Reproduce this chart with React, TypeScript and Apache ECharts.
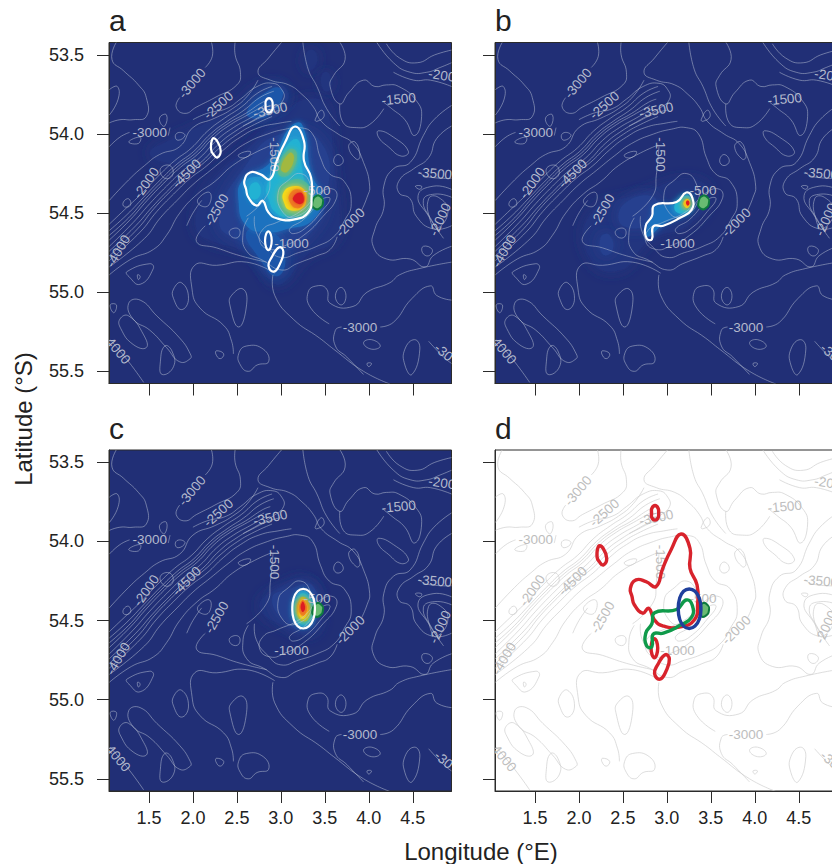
import React, { useEffect, useRef } from "react";
import * as echarts from "echarts";

const FONT = '"Liberation Sans", Arial, sans-serif';
const lonTicks = [1.5, 2.0, 2.5, 3.0, 3.5, 4.0, 4.5];
const latTicks = [53.5, 54.0, 54.5, 55.0, 55.5];
const panelLetters = ["a", "b", "c", "d"];
type P = number[];

const ridgeContours: P[][] = [
  [[1.05,54.42],[1.27,54.29],[1.45,54.20],[1.62,54.13],[1.85,54.08],[2.00,53.96],[2.25,53.90],[2.45,53.84],[2.62,53.76],[2.74,53.66]],
  [[1.05,54.57],[1.22,54.48],[1.41,54.38],[1.60,54.27],[1.79,54.17],[1.98,54.09],[2.17,53.98],[2.36,53.90],[2.55,53.83],[2.74,53.74],[2.90,53.70]],
  [[1.05,54.61],[1.25,54.51],[1.44,54.40],[1.63,54.29],[1.82,54.19],[2.01,54.11],[2.20,54.00],[2.39,53.92],[2.58,53.85],[2.76,53.77],[2.92,53.73]],
  [[1.05,54.64],[1.27,54.53],[1.46,54.41],[1.65,54.30],[1.84,54.20],[2.03,54.12],[2.22,54.01],[2.41,53.93],[2.60,53.87],[2.79,53.80],[2.88,53.78]],
  [[1.05,54.67],[1.29,54.54],[1.48,54.42],[1.67,54.31],[1.86,54.21],[2.05,54.13],[2.24,54.02],[2.43,53.94],[2.62,53.88],[2.81,53.82]],
  [[1.05,54.71],[1.32,54.56],[1.51,54.44],[1.70,54.33],[1.89,54.23],[2.08,54.15],[2.27,54.04],[2.46,53.96],[2.65,53.90],[2.84,53.84]],
  [[1.05,54.74],[1.35,54.58],[1.54,54.46],[1.73,54.35],[1.92,54.25],[2.11,54.17],[2.30,54.06],[2.49,53.98],[2.68,53.92],[2.87,53.87],[3.00,53.85]],
  [[1.05,54.77],[1.37,54.60],[1.56,54.47],[1.75,54.36],[1.94,54.26],[2.13,54.18],[2.32,54.08],[2.51,54.00],[2.70,53.94],[2.90,53.89]],
  [[1.05,54.80],[1.40,54.62],[1.59,54.49],[1.78,54.38],[1.97,54.28],[2.16,54.20],[2.35,54.10],[2.54,54.02],[2.75,53.96],[3.00,53.93],[3.12,53.92]],
  [[1.05,54.84],[1.45,54.66],[1.63,54.53],[1.82,54.42],[2.00,54.32],[2.20,54.23],[2.40,54.14],[2.60,54.06],[2.85,54.00],[3.05,53.97],[3.22,53.96],[3.36,54.00],[3.45,54.15],[3.55,54.25],[3.72,54.30],[3.80,54.44],[3.72,54.55],[3.60,54.65],[3.41,54.71],[3.20,54.75],[3.00,54.78],[2.85,54.72],[2.72,54.62],[2.70,54.52]],
  [[1.05,54.89],[1.30,54.79],[1.55,54.73],[1.70,54.64],[1.85,54.50],[2.05,54.38],[2.25,54.30],[2.45,54.20],[2.70,54.12],[2.90,54.07]],
];

const openContours: P[][] = [
  [[1.13,53.42],[1.08,53.53],[1.21,53.60],[1.38,53.69],[1.47,53.77],[1.47,53.89],[1.32,53.91],[1.17,53.91],[1.05,53.93]],
  [[1.05,53.72],[1.14,53.70],[1.15,53.78],[1.05,53.88]],
  [[2.21,53.42],[2.22,53.51],[2.14,53.58]],
  [[1.85,53.77],[1.81,53.83],[1.91,53.87],[2.04,53.83],[2.25,53.77],[2.50,53.69],[2.54,53.61],[2.48,53.50],[2.48,53.42]],
  [[2.00,53.91],[2.16,53.87],[2.38,53.84],[2.54,53.78],[2.73,53.70],[2.91,53.68],[3.01,53.72],[3.03,53.78],[2.91,53.84],[2.73,53.90],[2.57,53.95]],
  [[3.01,53.42],[2.86,53.52],[2.74,53.61],[2.88,53.66],[3.09,53.69],[3.24,53.75],[3.37,53.83],[3.46,53.92],[3.65,54.00],[3.82,54.06],[3.94,54.18],[4.01,54.33],[3.98,54.40],[3.92,54.48]],
  [[3.64,54.65],[3.56,54.73],[3.41,54.77],[3.18,54.82],[3.01,54.86],[2.80,54.80],[2.61,54.74],[2.57,54.62],[2.63,54.53]],
  [[3.67,53.42],[3.73,53.53],[3.60,53.63],[3.56,53.70],[3.67,53.81],[3.77,53.74],[3.94,53.66],[4.07,53.70],[4.20,53.69],[4.34,53.70],[4.54,53.79],[4.60,53.89],[4.52,54.01],[4.41,53.91],[4.26,53.84],[4.17,53.80]],
  [[3.67,53.81],[3.71,53.93],[3.86,53.96],[4.01,53.94],[4.17,53.84]],
  [[3.25,53.42],[3.31,53.59],[3.41,53.70],[3.52,53.84],[3.67,53.95]],
  [[4.09,53.42],[4.28,53.55],[4.47,53.61],[4.66,53.61],[4.81,53.58],[4.94,53.55]],
  [[4.20,53.43],[4.35,53.52],[4.55,53.55],[4.75,53.50],[4.94,53.47]],
  [[4.94,53.70],[4.70,53.66],[4.51,53.66],[4.28,53.61]],
  [[2.61,54.52],[2.84,54.39],[2.88,54.26],[2.91,54.08]],
  [[2.14,54.58],[2.04,54.68],[2.27,54.72],[2.54,54.77],[2.84,54.81]],
  [[1.93,54.58],[2.00,54.50],[2.10,54.42]],
  [[1.05,54.08],[1.17,54.02],[1.28,53.99]],
  [[1.72,54.01],[1.74,53.96]],
  [[2.91,54.89],[2.93,55.02],[3.14,55.17],[3.44,55.29],[3.60,55.36],[3.94,55.50],[4.24,55.58]],
  [[3.55,55.20],[3.34,55.10],[3.31,55.00],[3.41,54.96],[3.52,54.98],[3.56,55.07],[3.82,55.09],[3.98,55.00],[4.24,54.94],[4.35,54.89],[4.58,54.85],[4.94,54.81]],
  [[4.94,55.05],[4.77,55.02],[4.70,54.96],[4.49,55.04],[4.28,55.19],[4.13,55.22]],
  [[3.69,55.22],[3.62,55.24],[3.62,55.34],[3.75,55.41],[3.94,55.52]],
  [[4.68,55.31],[4.85,55.41],[4.94,55.45]],
  [[2.93,54.88],[2.61,54.81],[2.27,54.83],[2.02,54.83],[1.99,54.98],[2.08,55.10],[2.35,55.21],[2.44,55.31],[2.46,55.39]],
  [[1.06,55.30],[1.27,55.44],[1.44,55.57]],
  [[4.94,53.95],[4.77,54.03],[4.68,54.15],[4.51,54.22],[4.35,54.29],[4.34,54.37],[4.47,54.41],[4.54,54.52],[4.73,54.60],[4.94,54.58]],
  [[4.94,53.82],[4.74,53.91],[4.62,54.01],[4.47,54.18],[4.28,54.22],[4.17,54.33],[4.17,54.47],[4.07,54.60],[4.05,54.71],[4.20,54.79],[4.47,54.79],[4.64,54.84],[4.73,54.77],[4.94,54.71]],
  [[4.94,54.35],[4.73,54.33],[4.56,54.39],[4.68,54.52],[4.80,54.62]],
  [[4.94,54.40],[4.75,54.38],[4.62,54.42],[4.72,54.55],[4.85,54.66]],
  [[4.57,54.24],[4.66,54.27],[4.94,54.28]],
];

const closedContours: P[][] = [
  [[2.80,54.60],[2.95,54.56],[3.22,54.49],[3.45,54.37],[3.60,54.35],[3.63,54.41],[3.48,54.52],[3.26,54.64],[3.03,54.71],[2.88,54.73],[2.76,54.68]],
  [[3.09,54.29],[3.22,54.25],[3.33,54.31],[3.35,54.43],[3.18,54.52],[3.03,54.50],[2.97,54.37]],
  [[3.10,54.60],[3.26,54.54],[3.48,54.41],[3.56,54.41],[3.46,54.49],[3.29,54.59],[3.14,54.63]],
  [[3.68,54.97],[3.74,55.02],[3.69,55.08],[3.62,55.03]],
  [[3.94,55.32],[4.03,55.30],[4.13,55.34],[4.03,55.36]],
  [[4.41,55.36],[4.52,55.30],[4.58,55.36],[4.49,55.52],[4.41,55.46]],
  [[3.98,55.45],[4.03,55.45],[4.00,55.47]],
  [[1.27,55.07],[1.40,55.05],[1.59,55.15],[1.85,55.29],[1.97,55.39],[1.97,55.42],[1.85,55.44],[1.70,55.35],[1.51,55.24],[1.32,55.17]],
  [[1.17,55.17],[1.27,55.15],[1.44,55.27],[1.47,55.35],[1.32,55.33],[1.18,55.23]],
  [[1.06,55.08],[1.13,55.08],[1.10,55.13]],
  [[2.44,55.02],[2.57,54.98],[2.61,55.08],[2.52,55.22],[2.42,55.08]],
  [[1.78,54.98],[1.87,54.94],[1.95,55.04],[1.87,55.11],[1.78,55.04]],
  [[1.25,54.87],[1.51,54.82],[1.55,54.85],[1.40,54.95],[1.27,54.90]],
  [[1.37,54.89],[1.40,54.90],[1.38,54.92]],
  [[2.52,55.39],[2.61,55.34],[2.80,55.36],[2.86,55.44],[2.73,55.46],[2.63,55.50],[2.54,55.46]],
  [[2.27,55.37],[2.35,55.39],[2.31,55.42],[2.26,55.39]],
  [[1.63,55.44],[1.68,55.34],[1.76,55.37],[1.78,55.47],[1.65,55.52]],
  [[4.68,54.41],[4.79,54.40],[4.90,54.49],[4.77,54.60],[4.70,54.55]],
  [[4.53,54.33],[4.60,54.33],[4.58,54.35]],
  [[4.62,54.71],[4.72,54.73],[4.68,54.77],[4.61,54.75]],
  [[4.11,53.98],[4.28,54.02],[4.45,54.11],[4.37,54.14],[4.22,54.08],[4.11,54.02]],
  [[3.60,54.17],[3.65,54.13],[3.71,54.17],[3.65,54.20]],
  [[3.77,54.08],[3.84,54.05],[3.90,54.14],[3.86,54.16]],
  [[3.39,53.91],[3.46,53.85],[3.49,53.89],[3.41,53.92]],
  [[2.06,54.41],[2.19,54.37],[2.18,54.45],[2.08,54.45]],
  [[2.42,54.61],[2.52,54.60],[2.52,54.65],[2.44,54.65]],
  [[2.52,54.13],[2.65,54.11],[2.63,54.14],[2.54,54.15]],
  [[1.27,54.05],[1.40,54.02],[1.38,54.06]],
  [[1.80,54.01],[1.85,53.99],[1.91,54.01],[1.83,54.04]],
  [[1.63,53.89],[1.70,53.88],[1.68,53.95],[1.63,53.93]],
  [[1.63,54.22],[1.74,54.20],[1.77,54.26],[1.68,54.28]],
  [[1.21,54.43],[1.27,54.41],[1.29,54.45],[1.22,54.46]],
];

const contourLabels: [string, number, number, number][] = [
  ["-3000", 1.99, 53.68, 50], ["-2500", 2.29, 53.82, 42], ["-3500", 2.88, 53.85, 12],
  ["-3000", 1.51, 53.99, 0], ["-1500", 4.34, 53.78, 5], ["-200", 4.83, 53.63, -8],
  ["-1500", 2.93, 54.13, -90], ["-2000", 1.47, 54.31, 55], ["-4500", 1.93, 54.25, 45],
  ["-2500", 2.27, 54.48, 60], ["-500", 3.41, 54.36, 0], ["-1000", 3.12, 54.69, 0],
  ["-2000", 3.79, 54.56, 45], ["-3500", 4.75, 54.25, -5], ["-2000", 4.81, 54.54, 65],
  ["-4000", 1.15, 54.74, 60], ["-3000", 3.90, 55.22, 0], ["4000", 1.15, 55.37, -50], ["-30", 4.85, 55.38, -40],
];

const contourA: P[][] = [
  [[2.585,54.296],[2.65,54.243],[2.763,54.254],[2.877,54.285],[2.953,54.17],[3.047,54.054],[3.161,53.953],[3.263,54.044],[3.263,54.17],[3.343,54.275],[3.35,54.39],[3.313,54.495],[3.142,54.541],[2.953,54.533],[2.858,54.495],[2.793,54.422],[2.725,54.453],[2.63,54.40],[2.604,54.348]],
  [[2.866,53.773],[2.90,53.79],[2.906,53.82],[2.90,53.85],[2.866,53.865],[2.83,53.85],[2.826,53.82],[2.83,53.79]],
  [[2.225,54.03],[2.27,54.04],[2.316,54.107],[2.278,54.149],[2.235,54.13],[2.206,54.096]],
  [[2.858,54.615],[2.896,54.674],[2.858,54.735],[2.82,54.674]],
  [[2.98,54.716],[3.028,54.743],[2.99,54.82],[2.92,54.87],[2.86,54.835],[2.895,54.78]],
];
const contourB: P[][] = [
  [[2.86,54.45],[3.11,54.43],[3.22,54.37],[3.29,54.405],[3.28,54.48],[3.15,54.53],[2.96,54.58],[2.845,54.585],[2.83,54.665],[2.77,54.66],[2.76,54.58],[2.83,54.52]],
];
const contourC: P[][] = [
  [[3.254,54.30],[3.32,54.315],[3.37,54.36],[3.387,54.425],[3.37,54.49],[3.32,54.535],[3.254,54.55],[3.19,54.535],[3.145,54.49],[3.13,54.425],[3.145,54.36],[3.19,54.315]],
];
const seamountPatch: P[] = [[3.41,54.39],[3.46,54.40],[3.48,54.43],[3.44,54.47],[3.38,54.47],[3.36,54.43]];

const heatColors = ["#22347f", "#25408f", "#1f56a9", "#1f72bf", "#2393cf", "#22b2d3", "#4fb79a", "#a2b83f", "#f3dc1f", "#f08a20", "#dd1f22"];

const heatA: [number, P[]][] = [
  [0, [[2.04,54.60],[2.12,54.39],[2.35,54.22],[2.61,54.10],[2.91,53.93],[3.14,53.82],[3.30,53.78],[3.48,53.80],[3.56,53.93],[3.60,54.18],[3.67,54.52],[3.60,54.68],[3.29,54.77],[3.03,54.94],[2.91,54.94],[2.76,54.81],[2.54,54.73],[2.23,54.68]]],
  [1, [[2.30,54.55],[2.60,54.20],[3.00,54.00],[3.45,54.05],[3.52,54.40],[3.30,54.65],[2.95,54.75],[2.55,54.68]]],
  [0, [[1.51,54.12],[1.70,54.05],[2.08,53.95],[2.46,53.84],[2.76,53.70],[3.03,53.70],[3.07,53.80],[2.73,53.89],[2.46,54.01],[2.08,54.18],[1.70,54.18]]],
  [2, [[2.61,53.87],[2.91,53.71],[3.03,53.74],[2.84,53.89]]],
  [0, [[3.28,53.50],[3.37,53.47],[3.41,53.55],[3.31,53.60]]],
  [0, [[3.47,53.62],[3.55,53.62],[3.56,53.72],[3.48,53.72]]],
  [2, [[2.61,54.62],[2.91,54.62],[3.05,54.79],[2.95,54.90],[2.76,54.79]]],
  [3, [[2.57,54.29],[2.88,54.18],[3.10,53.96],[3.24,53.94],[3.35,54.26],[3.46,54.39],[3.37,54.54],[3.07,54.60],[2.84,54.62],[2.61,54.58],[2.52,54.43]]],
  [4, [[2.60,54.30],[2.76,54.27],[2.89,54.29],[2.96,54.18],[3.05,54.06],[3.16,53.97],[3.25,54.05],[3.25,54.17],[3.33,54.28],[3.34,54.39],[3.30,54.48],[3.14,54.53],[2.96,54.52],[2.87,54.48],[2.79,54.41],[2.72,54.44],[2.64,54.39]]],
  [5, [[2.84,54.33],[2.95,54.22],[3.09,54.06],[3.20,54.04],[3.23,54.18],[3.27,54.33],[3.30,54.47],[3.10,54.52],[2.95,54.50],[2.86,54.41]]],
  [5, [[2.65,54.33],[2.74,54.31],[2.76,54.39],[2.67,54.41]]],
  [6, [[2.97,54.23],[3.09,54.10],[3.18,54.12],[3.12,54.24],[3.01,54.27]]],
  [7, [[3.00,54.22],[3.10,54.12],[3.15,54.15],[3.07,54.24]]],
  [6, [[2.96,54.37],[3.08,54.30],[3.27,54.30],[3.34,54.39],[3.31,54.49],[3.12,54.52],[3.00,54.47]]],
  [8, [[3.03,54.37],[3.14,54.33],[3.26,54.35],[3.29,54.41],[3.24,54.47],[3.10,54.48],[3.04,54.44]]],
  [9, [[3.10,54.38],[3.18,54.35],[3.26,54.38],[3.26,54.44],[3.18,54.47],[3.10,54.43]]],
  [10, [[3.14,54.40],[3.22,54.37],[3.26,54.40],[3.24,54.44],[3.16,54.43]]],
];
const heatB: [number, P[]][] = [
  [0, [[2.13,54.51],[2.69,54.38],[3.26,54.29],[3.49,54.38],[3.26,54.57],[2.81,54.67],[2.47,54.86],[2.13,54.79]]],
  [1, [[2.25,54.65],[2.35,54.64],[2.38,54.74],[2.27,54.76]]],
  [1, [[2.50,54.45],[2.85,54.40],[2.85,54.55],[2.50,54.58]]],
  [3, [[2.86,54.46],[3.11,54.44],[3.22,54.38],[3.28,54.41],[3.27,54.48],[3.15,54.52],[2.96,54.57],[2.78,54.65],[2.78,54.58],[2.84,54.52]]],
  [5, [[3.09,54.447],[3.22,54.39],[3.28,54.426],[3.26,54.479],[3.13,54.50]]],
  [6, [[3.17,54.436],[3.23,54.405],[3.27,54.436],[3.24,54.474],[3.19,54.474]]],
  [8, [[3.19,54.432],[3.235,54.411],[3.265,54.436],[3.24,54.466],[3.205,54.462]]],
  [10, [[3.217,54.432],[3.243,54.42],[3.258,54.44],[3.235,54.453]]],
];
const heatC: [number, P[]][] = [
  [0, [[2.76,54.415],[2.99,54.29],[3.29,54.246],[3.44,54.415],[3.37,54.58],[3.06,54.54]]],
  [1, [[2.90,54.36],[3.10,54.30],[3.36,54.28],[3.40,54.50],[3.30,54.56],[3.08,54.52]]],
  [4, [[3.254,54.31],[3.36,54.37],[3.38,54.425],[3.36,54.49],[3.254,54.54],[3.15,54.49],[3.135,54.425],[3.15,54.37]]],
  [5, [[3.25,54.325],[3.33,54.37],[3.355,54.43],[3.33,54.50],[3.25,54.525],[3.18,54.49],[3.155,54.43],[3.18,54.37]]],
  [7, [[3.25,54.35],[3.31,54.38],[3.33,54.43],[3.31,54.49],[3.25,54.505],[3.20,54.48],[3.18,54.43],[3.20,54.38]]],
  [8, [[3.25,54.365],[3.29,54.39],[3.31,54.43],[3.29,54.47],[3.25,54.49],[3.21,54.47],[3.20,54.43],[3.21,54.39]]],
  [9, [[3.25,54.37],[3.28,54.39],[3.295,54.42],[3.28,54.455],[3.25,54.47],[3.22,54.455],[3.21,54.42],[3.22,54.39]]],
  [10, [[3.25,54.38],[3.27,54.40],[3.275,54.42],[3.265,54.44],[3.245,54.445],[3.23,54.43],[3.225,54.41],[3.235,54.39]]],
];

function curveSeries(i: number, curves: P[][], closed: boolean, color: string, width: number, z: number) {
  return {
    type: "custom", xAxisIndex: i, yAxisIndex: i, z, clip: true, silent: true,
    data: curves.map((c) => c[0]),
    renderItem: (params: any, api: any) => ({
      type: closed ? "polygon" : "polyline",
      shape: { points: curves[params.dataIndex].map((p) => api.coord(p)), smooth: 0.5 },
      style: { fill: "none", stroke: color, lineWidth: width },
    }),
  };
}

function App() {
  const ref = useRef<HTMLDivElement>(null);
  useEffect(() => {
    const chart = echarts.init(ref.current!, undefined, { renderer: "svg" });
    const lefts = [109, 495, 109, 495];
    const tops = [42.5, 42.5, 450, 450];
    const heats = [heatA, heatB, heatC, []];
    const outlines = [contourA, contourB, contourC, []];
    const series: any[] = [];
    panelLetters.forEach((_, i) => {
      const isMap = i < 3;
      const heat = heats[i] as [number, P[]][];
      series.push({
        type: "custom", xAxisIndex: i, yAxisIndex: i, z: 1, clip: true, silent: true,
        data: heat.map((h) => h[1][0]),
        renderItem: (params: any, api: any) => {
          const h = heat[params.dataIndex];
          const c = heatColors[h[0]];
          return {
            type: "polygon",
            shape: { points: h[1].map((p) => api.coord(p)), smooth: 0.5 },
            style: { fill: c, shadowColor: c, shadowBlur: h[0] < 3 ? 14 : 6 },
          };
        },
      });
      const lc = isMap ? "rgba(190,197,215,0.72)" : "#cfcfcf";
      series.push(curveSeries(i, ridgeContours, false, lc, 0.7, 2));
      series.push(curveSeries(i, openContours, false, lc, 0.7, 2));
      series.push(curveSeries(i, closedContours, true, lc, 0.7, 2));
      series.push({
        type: "custom", xAxisIndex: i, yAxisIndex: i, z: 3, clip: true, silent: true,
        data: contourLabels.map((l) => [l[1], l[2]]),
        renderItem: (params: any, api: any) => {
          const l = contourLabels[params.dataIndex];
          const pos = api.coord([l[1], l[2]]);
          return {
            type: "text", x: pos[0], y: pos[1], rotation: (l[3] * Math.PI) / 180,
            style: { text: l[0], fill: isMap ? "#b4bacd" : "#bdbdbd", font: `13.5px ${FONT}`, align: "center", verticalAlign: "middle" },
          };
        },
      });
      series.push({
        type: "custom", xAxisIndex: i, yAxisIndex: i, z: 4, clip: true, silent: true,
        data: [seamountPatch[0]],
        renderItem: (_p: any, api: any) => ({
          type: "polygon",
          shape: { points: seamountPatch.map((p) => api.coord(p)), smooth: 0.6 },
          style: { fill: "#69bb72", stroke: "#0e7a3e", lineWidth: 2 },
        }),
      });
      if (isMap) {
        series.push(curveSeries(i, outlines[i] as P[][], true, "#ffffff", 2.2, 5));
      } else {
        series.push(curveSeries(i, contourA, true, "#d8232c", 3.4, 5));
        series.push(curveSeries(i, contourB, true, "#0f9a4a", 3.4, 6));
        series.push(curveSeries(i, contourC, true, "#1f3f9c", 3.4, 7));
      }
    });
    chart.setOption({
      animation: false,
      backgroundColor: "#ffffff",
      grid: panelLetters.map((_, i) => ({
        left: lefts[i], top: tops[i], width: 342.5, height: 341, show: true,
        backgroundColor: i < 3 ? "#212f76" : "#ffffff", borderColor: "#2b2b2b", borderWidth: 1,
      })),
      xAxis: panelLetters.map((_, i) => ({
        type: "value", gridIndex: i, min: 1.046, max: 4.94, position: "bottom",
        splitLine: { show: false },
        axisLine: { show: true, onZero: false, lineStyle: { color: "#2b2b2b", width: 1 } },
        axisTick: { show: true, length: 12, customValues: lonTicks, lineStyle: { color: "#2b2b2b", width: 1 } },
        axisLabel: {
          show: i >= 2, customValues: lonTicks, margin: 18, color: "#222222", fontSize: 18, fontFamily: FONT,
          formatter: (v: number) => v.toFixed(1),
        },
      })),
      yAxis: panelLetters.map((_, i) => ({
        type: "value", gridIndex: i, min: 53.422, max: 55.577, inverse: true, position: "left",
        splitLine: { show: false },
        axisLine: { show: true, onZero: false, lineStyle: { color: "#2b2b2b", width: 1 } },
        axisTick: { show: true, length: 12, customValues: latTicks, lineStyle: { color: "#2b2b2b", width: 1 } },
        axisLabel: {
          show: i % 2 === 0, customValues: latTicks, margin: 25, color: "#222222", fontSize: 18, fontFamily: FONT,
          formatter: (v: number) => v.toFixed(1),
        },
      })),
      series,
      graphic: [
        ...panelLetters.map((t, i) => ({
          type: "text", x: lefts[i], y: tops[i] - 7,
          style: { text: t, fill: "#222222", font: `30px ${FONT}`, textVerticalAlign: "bottom" },
        })),
        {
          type: "text", x: 23, y: 419, rotation: Math.PI / 2,
          style: { text: "Latitude (°S)", fill: "#222222", font: `24px ${FONT}`, textAlign: "center", textVerticalAlign: "middle" },
        },
        {
          type: "text", x: 481, y: 851,
          style: { text: "Longitude (°E)", fill: "#222222", font: `24px ${FONT}`, textAlign: "center", textVerticalAlign: "middle" },
        },
      ],
    });
    return () => chart.dispose();
  }, []);
  return (
    <div style={{ position: "fixed", left: 0, top: 0, width: 832, height: 864, overflow: "hidden", background: "#fff" }}>
      <div ref={ref} style={{ width: 845, height: 864 }} />
    </div>
  );
}

export default App;
